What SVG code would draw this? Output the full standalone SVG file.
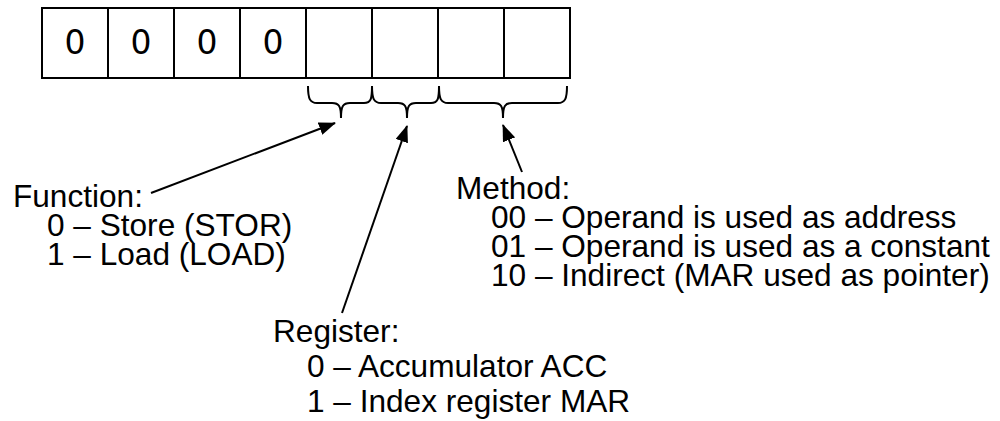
<svg xmlns="http://www.w3.org/2000/svg" width="1000" height="421" viewBox="0 0 1000 421">
<style>
.box{fill:#fff;stroke:#000;stroke-width:2}
.bit{font-family:"DejaVu Sans",sans-serif;font-size:33px;fill:#000;text-anchor:middle}
.lbl{font-family:"Liberation Sans",Arial,sans-serif;font-size:31.6px;fill:#000}
.brace{fill:none;stroke:#000;stroke-width:2}
.arr{fill:none;stroke:#000;stroke-width:2;marker-end:url(#ah)}
</style>
<defs>
<marker id="ah" markerUnits="userSpaceOnUse" markerWidth="17" markerHeight="13" refX="16" refY="6.5" orient="auto">
<path d="M0,0 L17,6.5 L0,13 z" fill="#000"/>
</marker>
</defs>
<rect x="0" y="0" width="1000" height="421" fill="#fff"/>
<g id="register-bits">
<g id="bit1"><rect class="box" x="42" y="8" width="66" height="70"/><text class="bit" x="75" y="54">0</text></g>
<g id="bit2"><rect class="box" x="108" y="8" width="66" height="70"/><text class="bit" x="141" y="54">0</text></g>
<g id="bit3"><rect class="box" x="174" y="8" width="66" height="70"/><text class="bit" x="207" y="54">0</text></g>
<g id="bit4"><rect class="box" x="240" y="8" width="66" height="70"/><text class="bit" x="273" y="54">0</text></g>
<g id="bit5"><rect class="box" x="306" y="8" width="66" height="70"/></g>
<g id="bit6"><rect class="box" x="372" y="8" width="66" height="70"/></g>
<g id="bit7"><rect class="box" x="438" y="8" width="66" height="70"/></g>
<g id="bit8"><rect class="box" x="504" y="8" width="66" height="70"/></g>
</g>
<g id="braces">
<path class="brace" d="M308,86 C308,99 310,103 317,103 L332,103 C339,103 341,106 341,118 M341,118 C341,106 343,103 350,103 L364,103 C371,103 372,99 372,86"/>
<path class="brace" d="M372,86 C372,99 374,103 381,103 L398,103 C405,103 407,106 407,118 M407,118 C407,106 409,103 416,103 L431,103 C438,103 439,99 439,86"/>
<path class="brace" d="M439,86 C439,99 441,103 448,103 L494,103 C501,103 503,106 503,118 M503,118 C503,106 505,103 512,103 L558,103 C565,103 567,99 567,86"/>
</g>
<g id="connectors">
<line class="arr" x1="151" y1="193" x2="335" y2="123"/>
<line class="arr" x1="342" y1="313" x2="407" y2="126"/>
<line class="arr" x1="522" y1="172" x2="503" y2="125"/>
</g>
<g id="function-label">
<text class="lbl" x="13" y="207">Function:</text>
<text class="lbl" x="47" y="236">0 – Store (STOR)</text>
<text class="lbl" x="47" y="265">1 – Load (LOAD)</text>
</g>
<g id="method-label">
<text class="lbl" x="456" y="199">Method:</text>
<text class="lbl" x="491" y="228">00 – Operand is used as address</text>
<text class="lbl" x="491" y="257">01 – Operand is used as a constant</text>
<text class="lbl" x="491" y="286">10 – Indirect (MAR used as pointer)</text>
</g>
<g id="register-label">
<text class="lbl" x="273" y="342">Register:</text>
<text class="lbl" x="307" y="377">0 – Accumulator ACC</text>
<text class="lbl" x="307" y="412">1 – Index register MAR</text>
</g>
</svg>
